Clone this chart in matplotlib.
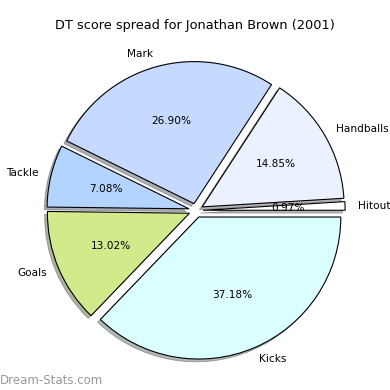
import matplotlib
matplotlib.use('Agg')
import matplotlib.pyplot as plt

labels = ['Hitout', 'Handballs', 'Mark', 'Tackle', 'Goals', 'Kicks']
values = [0.97, 14.85, 26.90, 7.08, 13.02, 37.18]
colors = ['#ffffff', '#ebf1ff', '#c6d9ff', '#b3d4ff', '#d0ea8c', '#dbffff']
explode = [0.05] * 6

fig = plt.figure(figsize=(3.9, 3.9), dpi=100)
ax = fig.add_axes([0, 0, 1, 1])

ax.pie(values, labels=labels, colors=colors, explode=explode,
       autopct='%1.2f%%', startangle=0, labeldistance=1.09,
       shadow=dict(ox=-0.014, oy=-0.014, shade=0.55, edgecolor='#555555', linewidth=0.6),
       wedgeprops=dict(edgecolor='black', linewidth=0.8),
       textprops=dict(fontsize=7.6))

ax.set_aspect('equal')
ax.set_xlim(-1.38, 1.366)
ax.set_ylim(-1.264, 1.482)
ax.axis('off')

fig.text(0.5, 0.935, 'DT score spread for Jonathan Brown (2001)',
         ha='center', va='center', fontsize=9.3)
fig.text(0.0, 0.025, 'Dream-Stats.com', ha='left', va='center',
         fontsize=8.5, color='#999999')

fig.savefig('out.png', dpi=100)
